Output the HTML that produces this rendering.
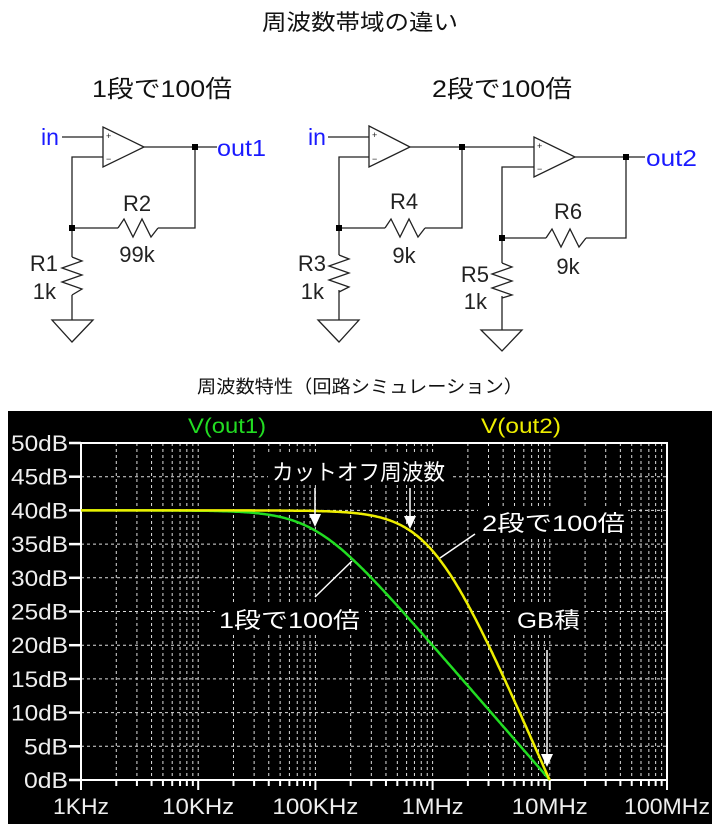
<!DOCTYPE html>
<html><head><meta charset="utf-8"><style>
html,body{margin:0;padding:0;background:#fff;width:720px;height:832px;overflow:hidden}
svg{display:block}
text{font-family:"Liberation Sans","Noto Sans CJK JP",sans-serif}
</style></head><body>
<svg id="s" width="720" height="832" viewBox="0 0 720 832" xmlns="http://www.w3.org/2000/svg">
<text x="262" y="30" font-size="22" textLength="196" lengthAdjust="spacingAndGlyphs" fill="#111">周波数帯域の違い</text>
<text x="92" y="97" font-size="24" textLength="140" lengthAdjust="spacingAndGlyphs" fill="#111">1段で100倍</text>
<text x="432" y="97" font-size="24" textLength="140" lengthAdjust="spacingAndGlyphs" fill="#111">2段で100倍</text>
<text x="197" y="393" font-size="18" textLength="326" lengthAdjust="spacingAndGlyphs" fill="#111">周波数特性（回路シミュレーション）</text>

<g stroke="#222" stroke-width="1.3" fill="none">
<polygon points="103,127 103,167 144,147"/>
<path d="M62,137H103 M144,147H217 M103,157H72V257 M72,228H118 M158,228H195V147 M72,295V320"/>
<polyline points="118,228 124,219 133,237 142,219 151,237 158,228"/>
<polyline points="72,257 82,261 62,268 82,275 62,282 82,289 72,295"/>
<polygon points="52,320 93,320 72,342"/>
<polygon points="369,126 369,167 410,147"/>
<path d="M328,137H369 M410,147H534 M369,157H339V255 M339,228H385 M425,228H462V147 M339,290V320"/>
<polyline points="385,228 391,219 400,237 409,219 418,237 425,228"/>
<polyline points="339,255 349,259 329,266 349,273 329,280 349,287 339,292"/>
<polygon points="318,320 359,320 339,342"/>
<polygon points="534,137 534,177 575,157"/>
<path d="M575,157H645 M534,167H502V263 M502,238H546 M586,238H626V157 M502,296V330"/>
<polyline points="546,238 552,229 561,247 570,229 579,247 586,238"/>
<polyline points="502,263 512,267 492,274 512,281 492,288 512,295 502,298"/>
<polygon points="481,330 522,330 502,351"/>
</g>
<g fill="#222" font-size="9">
<text x="106" y="139">+</text><text x="106" y="162">−</text>
<text x="372" y="138">+</text><text x="372" y="162">−</text>
<text x="537" y="149">+</text><text x="537" y="172">−</text>
</g>
<g fill="#000">
<rect x="192" y="144" width="6" height="6"/><rect x="69" y="225" width="6" height="6"/>
<rect x="459" y="144" width="6" height="6"/><rect x="336" y="225" width="6" height="6"/>
<rect x="623" y="154" width="6" height="6"/><rect x="499" y="235" width="6" height="6"/>
</g>
<g fill="#1a1aff" font-size="23">
<text x="41" y="145">in</text><text x="217" y="156" textLength="49" lengthAdjust="spacingAndGlyphs">out1</text>
<text x="308" y="145">in</text><text x="646" y="166" textLength="51" lengthAdjust="spacingAndGlyphs">out2</text>
</g>
<g fill="#222" font-size="22">
<text x="137" y="211" text-anchor="middle">R2</text><text x="137" y="262" text-anchor="middle">99k</text>
<text x="58" y="271" text-anchor="end">R1</text><text x="56" y="299" text-anchor="end">1k</text>
<text x="404" y="209" text-anchor="middle">R4</text><text x="404" y="263" text-anchor="middle">9k</text>
<text x="326" y="271" text-anchor="end">R3</text><text x="324" y="299" text-anchor="end">1k</text>
<text x="568" y="219" text-anchor="middle">R6</text><text x="568" y="274" text-anchor="middle">9k</text>
<text x="489" y="282" text-anchor="end">R5</text><text x="487" y="309" text-anchor="end">1k</text>
</g>

<rect x="8" y="411" width="704" height="413" fill="#000"/>
<g id="grid"></g>
<g id="curves"></g>
<g fill="#000">
<rect x="268" y="455" width="182" height="30"/>
<rect x="478" y="506" width="150" height="32"/>
<rect x="215" y="603" width="150" height="32"/>
<rect x="512" y="603" width="72" height="32"/>
</g>
<g fill="#fff" font-size="22">
<text x="272" y="480" textLength="173" lengthAdjust="spacingAndGlyphs">カットオフ周波数</text>
<text x="482" y="531" textLength="143" lengthAdjust="spacingAndGlyphs">2段で100倍</text>
<text x="219" y="628" textLength="141" lengthAdjust="spacingAndGlyphs">1段で100倍</text>
<text x="517" y="628" textLength="63" lengthAdjust="spacingAndGlyphs">GB積</text>
</g>
<g stroke="#fff" stroke-width="1.5" fill="#fff">
<line x1="315" y1="488" x2="315" y2="515"/><polygon points="309,514 321,514 315,527" stroke="none"/>
<line x1="410" y1="488" x2="410" y2="517"/><polygon points="404,516 416,516 410,529" stroke="none"/>
<line x1="547" y1="650" x2="547" y2="755"/><polygon points="541,754 553,754 547,767" stroke="none"/>
<line x1="475" y1="534" x2="440" y2="558"/>
<line x1="315" y1="597" x2="352" y2="561"/>
</g>
<g font-size="21">
<text x="188" y="433" fill="#22dd22" textLength="78" lengthAdjust="spacingAndGlyphs">V(out1)</text>
<text x="481" y="433" fill="#eeee00" textLength="80" lengthAdjust="spacingAndGlyphs">V(out2)</text>
</g>
</svg>
<script>
var NS="http://www.w3.org/2000/svg",g=document.getElementById("grid"),c=document.getElementById("curves");
function el(t,a,p){var e=document.createElementNS(NS,t);for(var k in a)e.setAttribute(k,a[k]);(p||g).appendChild(e);return e;}
var X0=81,DX=117.2,Y0=780,DY=6.74;
function fx(f){return X0+DX*(Math.log10(f)-3);}
for(var d=0;d<5;d++)for(var m=2;m<=9;m++){var x=X0+DX*(d+Math.log10(m));
el("line",{x1:x,y1:443,x2:x,y2:780,stroke:"#ddd","stroke-width":1,"stroke-dasharray":"3,3"});
el("line",{x1:x,y1:780,x2:x,y2:786,stroke:"#fff","stroke-width":2});}
for(var d=1;d<5;d++){var x=X0+DX*d;el("line",{x1:x,y1:443,x2:x,y2:780,stroke:"#ddd","stroke-width":1,"stroke-dasharray":"3,3"});}
var XL=["1KHz","10KHz","100KHz","1MHz","10MHz","100MHz"],XW=[56,72,86,62,76,86];
for(var d=0;d<=5;d++){var x=X0+DX*d;el("line",{x1:x,y1:780,x2:x,y2:790,stroke:"#fff","stroke-width":2});
var t=el("text",{x:x-XW[d]/2,y:814,fill:"#eee","font-size":"22",textLength:XW[d],lengthAdjust:"spacingAndGlyphs"});t.textContent=XL[d];}
for(var i=0;i<=10;i++){var y=Y0-i*5*DY;
if(i>0&&i<10)el("line",{x1:81,y1:y,x2:667,y2:y,stroke:"#ddd","stroke-width":1,"stroke-dasharray":"3,3"});
el("line",{x1:69,y1:y,x2:81,y2:y,stroke:"#fff","stroke-width":2.5});
var w=i>=2?57:44;
var t=el("text",{x:68-w,y:y+8,fill:"#eee","font-size":"22",textLength:w,lengthAdjust:"spacingAndGlyphs"});t.textContent=(i*5)+"dB";}
el("rect",{x:81,y:443,width:586,height:337,fill:"none",stroke:"#fff","stroke-width":2});
function path(fn,col){var s="";for(var k=0;k<=400;k++){var f=Math.pow(10,3+4*k/400);if(f>1e7)f=1e7;var v=fn(f);s+=(k?"L":"M")+fx(f).toFixed(1)+","+(Y0-v*DY).toFixed(1);if(f>=1e7)break;}
el("path",{d:s,stroke:col,"stroke-width":2.5,fill:"none"},c);}
path(function(f){return 40-10*Math.log10(1+Math.pow(f/1e5,2));},"#22dd22");
path(function(f){return Math.max(0,2*(20-10*Math.log10(1+Math.pow(f/1e6,2))));},"#eeee00");
</script>
</body></html>
